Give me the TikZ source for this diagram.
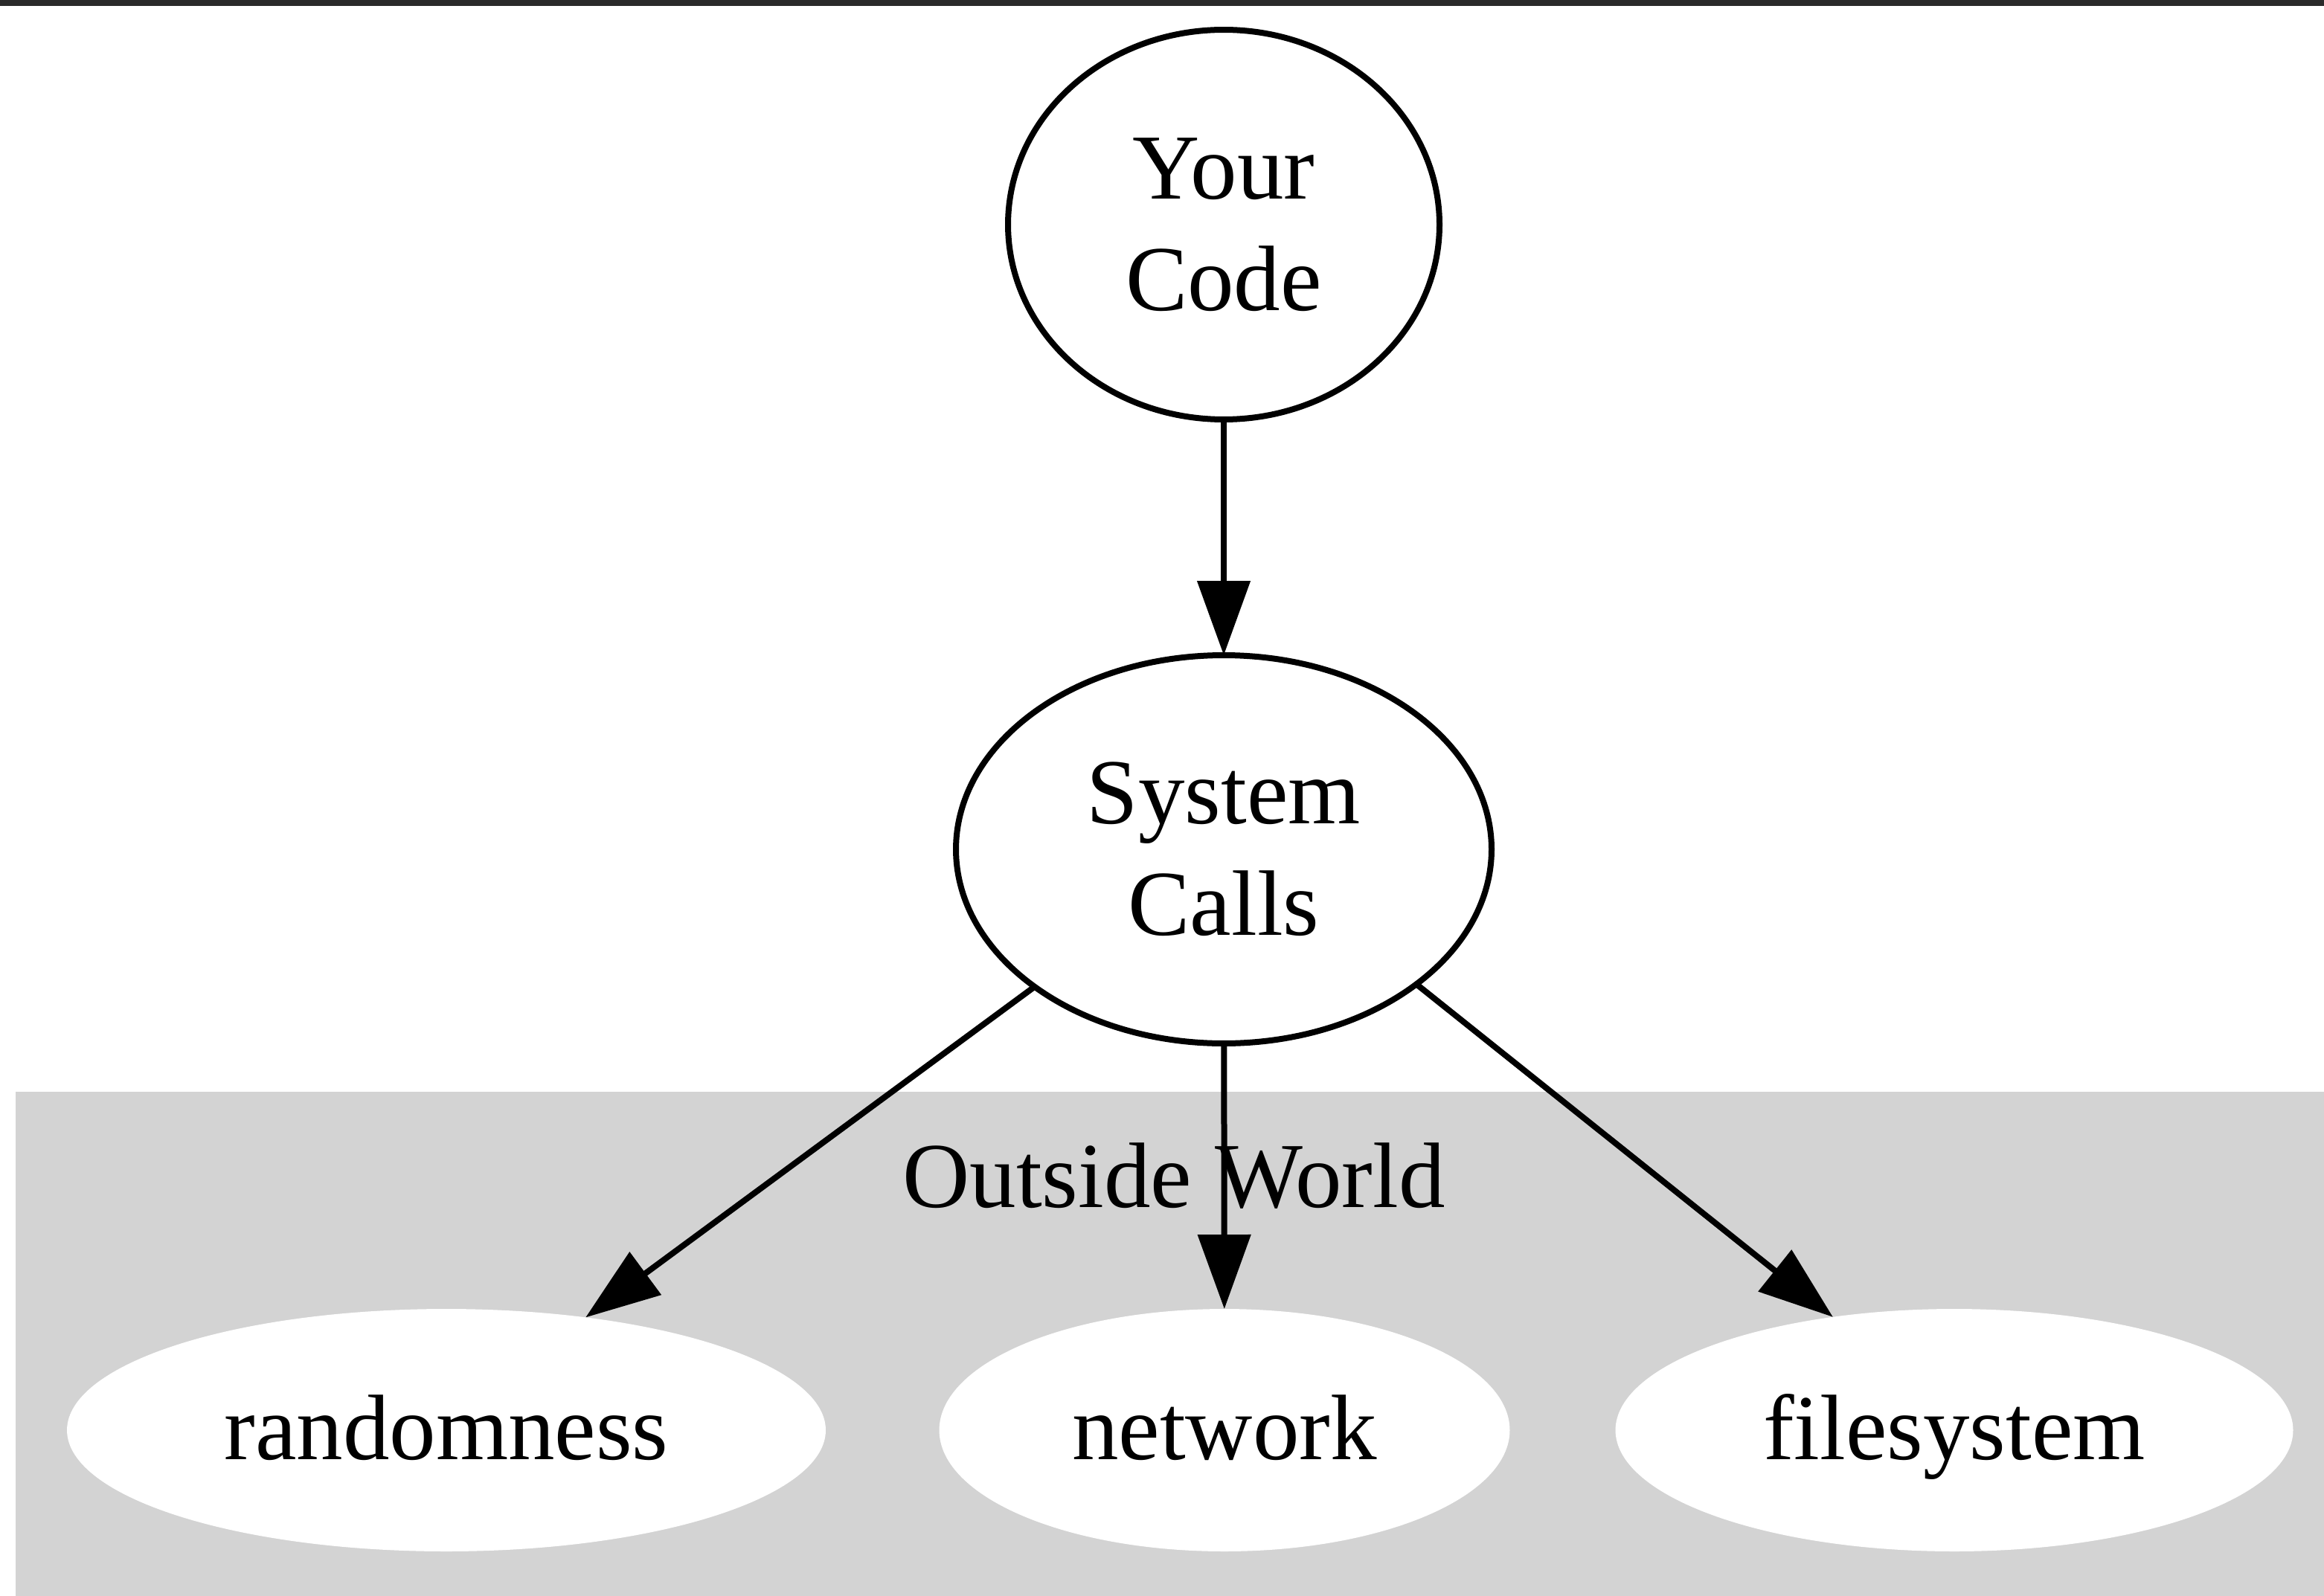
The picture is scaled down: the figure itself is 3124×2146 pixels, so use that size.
\documentclass[tikz,border=0pt]{standalone}
\usepackage{fontspec}
\setmainfont{Liberation Serif}
\usetikzlibrary{shapes.geometric,arrows.meta}
\definecolor{clustergray}{HTML}{D3D3D3}
\definecolor{topbar}{HTML}{2A2A2A}
\begin{document}
\begin{tikzpicture}[
  x=0.1pt, y=-0.1pt,
  every node/.style={font=\fontsize{12.5pt}{15pt}\selectfont, inner sep=0pt, outer sep=0pt},
  codenode/.style={ellipse, draw=black, line width=0.8pt, fill=white, align=center},
  worldnode/.style={ellipse, fill=white, draw=none, text height=10pt, text depth=2.2pt},
  edge/.style={draw=black, line width=0.8pt, -{Triangle[length=10pt,width=7pt]}}
]
% canvas and frame
\useasboundingbox (0,0) rectangle (3124,2146);
\fill[white] (0,0) rectangle (3124,2146);
\fill[topbar] (0,0) rectangle (3124,8);
% cluster background
\fill[clustergray] (21,1468) rectangle (3124,2146);
\node[anchor=base] (world) at (1578,1623) {Outside World};

% nodes
\node[codenode, minimum width=58pt, minimum height=52.4pt] (code) at (1645,302) {Your\\Code};
\node[codenode, minimum width=72pt, minimum height=52.2pt] (sys) at (1645,1142) {System\\Calls};
\node[worldnode, minimum width=102pt, minimum height=32.6pt] (rand) at (600,1923) {randomness};
\node[worldnode, minimum width=76.7pt, minimum height=32.6pt] (net) at (1646,1923) {network};
\node[worldnode, minimum width=91.1pt, minimum height=32.6pt] (fs) at (2627,1923) {filesystem};

% edges
\draw[edge] (code) -- (sys);
\draw[edge] (sys.-144) -- (rand.39);
\draw[edge] (sys) -- (net);
\draw[edge] (sys.-35) -- (fs.137);
\end{tikzpicture}
\end{document}
